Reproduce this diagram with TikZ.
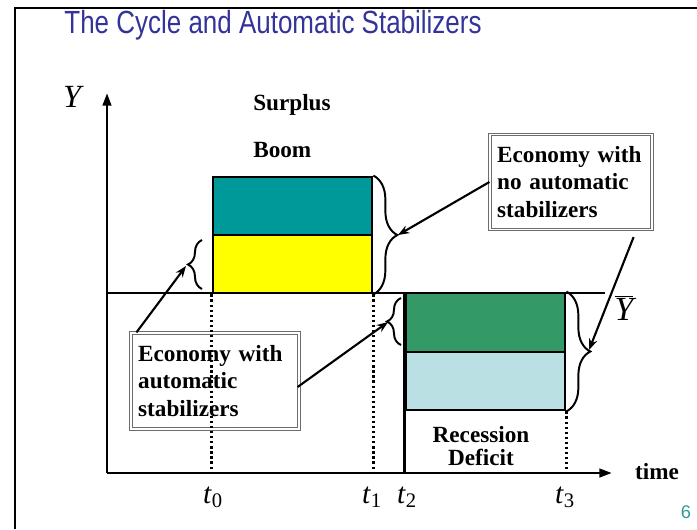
\documentclass[tikz,border=0pt]{standalone}
\usepackage{fontspec}
\setmainfont{Liberation Serif}
\newfontfamily\titlefont{Liberation Sans}
\definecolor{sbtitle}{HTML}{333399}
\definecolor{sbteal}{HTML}{009999}
\definecolor{sbyellow}{HTML}{FFFF00}
\definecolor{sbgreen}{HTML}{339966}
\definecolor{sblight}{HTML}{BBE0E3}
\definecolor{sbpage}{HTML}{339999}
\usetikzlibrary{arrows.meta, positioning, fit, calc, decorations.pathreplacing}

\begin{document}
\begin{tikzpicture}[
  x=0.025cm, y=-0.025cm,
  lbl/.style={font=\bfseries\fontsize{16.5}{19.5}\selectfont, inner sep=0pt},
  callout/.style={draw=gray!85!black, double=white, double distance=0.9pt,
    line width=0.8pt, fill=white, align=left, inner xsep=0.18cm,
    font=\bfseries\fontsize{16.5}{19.5}\selectfont},
  bar/.style={draw, line width=2pt, inner sep=0pt},
  guide/.style={dotted, line width=1.6pt},
  axis/.style={-{Triangle[length=9pt, width=6pt]}, line width=2pt},
  arr/.style={-{Stealth[length=8pt, width=6pt]}, line width=1.5pt},
  bracedeco/.style={decorate, decoration={brace, amplitude=#1}, line width=1.4pt},
  tick/.style={font=\fontsize{21}{23}\selectfont, inner sep=0pt}
]
  \useasboundingbox (0,0) rectangle (697,529);
  % slide frame and title
  \draw[line width=1.8pt] (15,529) -- (15,8) -- (697,8);
  \node[anchor=base, text=sbtitle, xscale=0.81, font=\titlefont\fontsize{22.8}{25}\selectfont]
    (title) at (273,33) {The Cycle and Automatic Stabilizers};
  \node[anchor=east, text=sbpage, font=\titlefont\fontsize{13}{14}\selectfont]
    (pgno) at (696,512) {6};

  % axes
  \coordinate (O) at (107,473);
  \coordinate (ytop) at (107,93);
  \coordinate (xend) at (612,473);
  \draw[axis] (O) -- (ytop);
  \draw[axis] (O) -- (xend);
  \node[tick, font=\itshape\fontsize{23}{25}\selectfont] (ylab) at (72,97) {Y};
  \node[lbl] (timelab) at (657,472) {time};

  % potential output
  \coordinate (ybl) at (107,293);
  \coordinate (ybr) at (605,293);
  \draw[line width=2pt] (ybl) -- (ybr);
  \node[tick, font=\fontsize{24}{26}\selectfont] (ybar) at (624,308) {$\overline{\textit{Y}}$};

  % boom and recession blocks
  \node[bar, fill=sbteal, fit={(213,177)(372,235)}] (boomhi) {};
  \node[bar, fill=sbyellow, fit={(213,235)(372,293)}] (boomlo) {};
  \node[bar, fill=sbgreen, fit={(406,293)(565,352)}] (rechi) {};
  \node[bar, fill=sblight, fit={(406,352)(565,410)}] (reclo) {};

  \node[lbl, anchor=west] (surplus) at (253,105) {Surplus};
  \node[lbl, anchor=west] (boom) at (253,150) {Boom};
  \node[lbl, align=center, font=\bfseries\fontsize{16.5}{16.5}\selectfont]
    (recess) at (481,446) {Recession\\ Deficit};

  % callout boxes
  \node[callout, text width=3.69cm, minimum height=2.375cm]
    (noauto) at (571,182) {Economy with\\ no automatic\\ stabilizers};
  \node[callout, text width=3.84cm, minimum height=2.4cm]
    (withauto) at (215,381) {Economy with\\ automatic\\ stabilizers};

  % time marks
  \draw[guide] (boomlo.south west) -- (boomlo.south west |- O);
  \draw[guide] (boomlo.south east) -- (boomlo.south east |- O);
  \draw[guide] (reclo.south east) -- (reclo.south east |- O);
  \draw[line width=2pt] (rechi.north west) -- (rechi.north west |- O);
  \node[tick] (t0) at (213,497) {\textit{t}\textsubscript{0}};
  \node[tick] (t1) at (372,497) {\textit{t}\textsubscript{1}};
  \node[tick] (t2) at (407,497) {\textit{t}\textsubscript{2}};
  \node[tick] (t3) at (565,497) {\textit{t}\textsubscript{3}};

  % braces
  \draw[bracedeco=17pt] (boomhi.north east) -- (boomlo.south east);
  \draw[bracedeco=17pt] (rechi.north east) -- (reclo.south east);
  \draw[bracedeco=10pt] (202,289) -- (202,240);
  \draw[bracedeco=10pt] (401,345) -- (401,298);
  \coordinate (boomtip) at (398,235);
  \coordinate (rectip) at (589,350);
  \coordinate (yeltip) at (186,266);
  \coordinate (grntip) at (388,322);

  % arrows to braces
  \draw[arr] (noauto.west) -- (boomtip);
  \draw[arr] ($(noauto.south east)+(-19,7)$) -- (rectip);
  \draw[arr] ($(withauto.north west)+(6,0)$) -- (yeltip);
  \draw[arr] ($(withauto.east)+(-2,6)$) -- (grntip);
\end{tikzpicture}
\end{document}
